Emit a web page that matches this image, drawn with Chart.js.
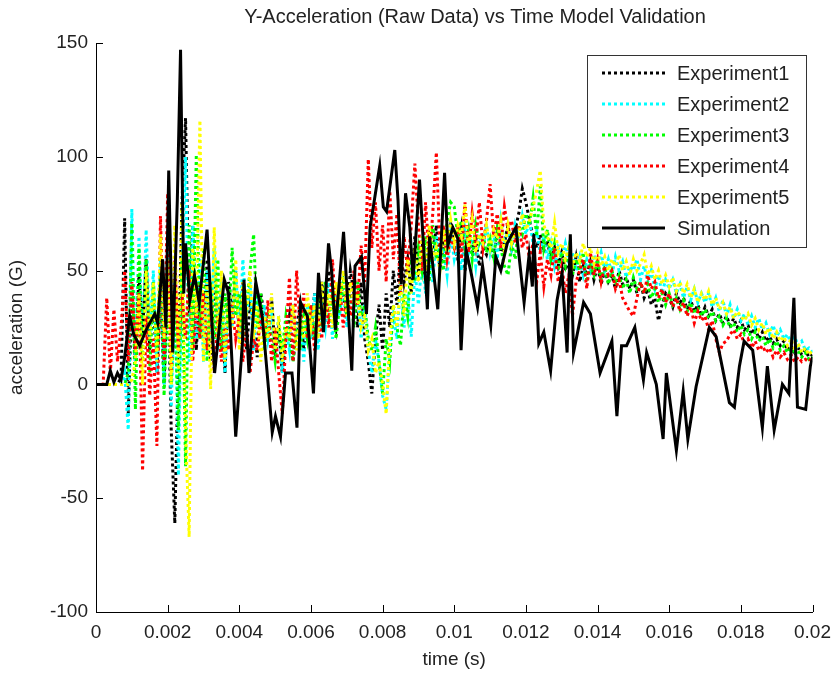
<!DOCTYPE html>
<html lang="en">
<head>
    <meta charset="UTF-8">
    <title>Y-Acceleration Model Validation</title>
    <script src="https://cdn.jsdelivr.net/npm/chart.js@4"></script>
    <style>
        body {
            margin: 0;
            background: #fff;
        }
        #chartBox {
            width: 840px;
            height: 674px;
        }
    </style>
</head>
<body>
    <div id="chartBox">
        <canvas id="accelChart" width="840" height="674"></canvas>
    </div>

    <script>
        // Raw accelerometer traces, sampled every 0.1 ms (0 .. 0.02 s)
        const sampleStep = 0.0001;
        const sampleCount = 201;

        const experiment1 = [
            0, 0, 0, 0, 0, 0, 0, 3, 73, -13,
            40, 10, 48, 22, 55, 15, 38, 5, 42, 0,
            50, -20, -61, 10, 80, 117, 30, 70, 15, 45,
            20, 55, 10, 48, 25, 40, 5, 45, 30, 50,
            20, 45, 15, 35, 28, 12, 40, 30, 20, 38,
            15, 25, 5, 20, 30, 10, 25, 35, 15, 30,
            20, 40, 25, 45, 30, 50, 35, 25, 45, 40,
            30, 50, 40, 25, 45, 20, 10, -4, 20, 35,
            15, 40, 25, 50, 35, 60, 45, 55, 40, 65,
            50, 60, 45, 65, 55, 70, 50, 62, 58, 70,
            60, 55, 68, 50, 62, 58, 65, 52, 60, 57,
            63, 55, 67, 58, 62, 70, 60, 68, 75, 86,
            80, 72, 65, 60, 66, 58, 63, 55, 60, 52,
            58, 50, 55, 48, 56, 45, 52, 48, 54, 46,
            52, 44, 50, 45, 48, 42, 50, 44, 47, 42,
            46, 40, 45, 38, 42, 35, 38, 28, 35, 40,
            38, 34, 40, 36, 38, 33, 37, 32, 35, 30,
            34, 30, 33, 28, 31, 27, 30, 26, 29, 25,
            28, 24, 26, 22, 25, 20, 23, 19, 21, 18,
            20, 17, 19, 15, 17, 14, 16, 13, 15, 12, 13
        ];

        const experiment2 = [
            0, 0, 0, 0, 0, 0, 0, 0, 5, -20,
            77, 10, 65, 15, 68, 20, 50, 5, 55, 0,
            60, -10, 45, -40, 50, 100, 10, 70, 20, 55,
            10, 50, 20, 60, 15, 45, 5, 40, 25, 50,
            20, 55, 30, 45, 15, 40, 25, 35, 20, 30,
            15, 30, 5, 25, 15, 35, 20, 30, 10, 35,
            20, 40, 15, 35, 25, 45, 20, 40, 30, 45,
            25, 40, 30, 45, 20, 35, 15, 5, 20, 10,
            -5, -11, 15, 30, 20, 45, 25, 40, 21, 50,
            35, 55, 40, 60, 45, 65, 50, 60, 48, 66,
            55, 62, 50, 68, 58, 64, 52, 66, 60, 70,
            58, 66, 55, 72, 62, 68, 60, 70, 64, 74,
            66, 72, 62, 68, 58, 65, 55, 62, 52, 60,
            56, 62, 54, 58, 50, 56, 48, 55, 50, 57,
            52, 58, 50, 55, 48, 56, 50, 54, 47, 52,
            50, 55, 46, 52, 45, 50, 42, 48, 40, 46,
            42, 46, 40, 44, 38, 43, 37, 42, 36, 40,
            36, 40, 34, 38, 32, 37, 30, 35, 29, 33,
            28, 31, 26, 30, 25, 29, 24, 27, 22, 26,
            21, 24, 20, 22, 18, 21, 17, 19, 15, 16, 14
        ];

        const experiment3 = [
            0, 0, 0, 0, 0, 0, 0, 0, 0, 5,
            71, -11, 60, 10, 55, 5, 45, 15, 50, -5,
            40, 0, 35, -20, 55, -36, 70, 15, 101, 20,
            60, 10, 45, 20, 55, 15, 40, 25, 60, 30,
            40, 20, 35, 50, 66, 25, 40, 15, 30, 20,
            10, 25, 15, 30, 20, 10, 25, 15, 30, 20,
            35, 20, 40, 25, 45, 30, 40, 20, 35, 45,
            30, 40, 25, 45, 30, 35, 20, 15, 25, 10,
            -4, 20, 10, 35, 25, 17, 40, 30, 55, 45,
            60, 50, 65, 45, 70, 55, 60, 50, 72, 80,
            78, 65, 72, 60, 68, 55, 70, 62, 66, 58,
            64, 56, 68, 60, 52, 48, 62, 55, 70, 66,
            75, 70, 82, 65, 87, 60, 68, 55, 62, 50,
            58, 52, 60, 48, 55, 50, 58, 45, 52, 48,
            55, 46, 52, 44, 50, 45, 48, 42, 46, 40,
            47, 42, 45, 40, 44, 38, 42, 36, 40, 35,
            40, 35, 38, 33, 37, 32, 36, 31, 34, 30,
            33, 29, 32, 28, 30, 26, 29, 25, 27, 23,
            26, 22, 24, 20, 23, 19, 21, 17, 20, 16,
            19, 15, 17, 14, 16, 13, 15, 12, 14, 11, 12
        ];

        const experiment4 = [
            0, 0, 0, 38, 5, 33, 10, 25, 50, 10,
            45, 15, 40, -38, 30, -5, 20, -27, 74, 10,
            84, 5, 55, 15, 40, 20, 50, 10, 35, 20,
            40, 15, 35, 5, 30, 10, 25, 15, 35, 20,
            30, 10, 25, 5, 20, 15, 30, 20, 37, 10,
            25, 5, -13, 20, 47, 10, 50, 25, 40, 20,
            35, 15, 30, 20, 40, 25, 55, 30, 45, 25,
            40, 30, 50, 35, 61, 45, 99, 60, 80, 50,
            70, 45, 85, 55, 75, 40, 65, 50, 70, 97,
            70, 50, 80, 55, 75, 102, 60, 70, 55, 65,
            60, 70, 55, 80, 58, 75, 62, 80, 60, 72,
            88, 65, 75, 60, 78, 68, 72, 62, 70, 60,
            66, 55, 62, 45, 58, 43, 55, 48, 60, 45,
            52, 40, 48, 30, 45, 50, 55, 42, 58, 48,
            55, 45, 52, 48, 50, 42, 46, 38, 35, 32,
            30, 38, 45, 40, 48, 42, 45, 38, 42, 36,
            40, 34, 38, 32, 36, 30, 34, 27, 32, 28,
            30, 24, 28, 20, 14, 18, 19, 22, 24, 20,
            22, 18, 20, 16, 19, 15, 17, 14, 16, 12,
            15, 12, 14, 11, 13, 10, 12, 10, 11, 10, 12
        ];

        const experiment5 = [
            0, 0, 0, 0, 0, 0, 0, 0, 0, 0,
            2, 10, 40, 0, 50, 20, 45, 10, 66, 20,
            55, 0, 70, 5, 80, -20, -67, 60, 30, 116,
            10, 45, -2, 69, 20, 50, 10, 40, 25, 55,
            15, 45, 30, 50, 20, 35, 10, 30, 20, 40,
            15, 30, 10, 25, 20, 35, 15, 30, 20, 40,
            25, 35, 20, 45, 30, 40, 25, 45, 35, 50,
            30, 45, 35, 40, 25, 30, 15, 20, 5, 10,
            0, -13, 20, 35, 25, 45, 30, 55, 40, 60,
            45, 65, 50, 70, 55, 60, 50, 68, 58, 72,
            62, 70, 65, 79, 60, 72, 58, 66, 62, 70,
            60, 68, 64, 72, 58, 70, 62, 68, 66, 75,
            68, 72, 78, 85, 94, 70, 65, 60, 71, 58,
            62, 55, 60, 52, 58, 54, 62, 56, 60, 53,
            58, 52, 56, 50, 55, 52, 57, 50, 54, 48,
            55, 50, 53, 57, 48, 52, 46, 50, 44, 48,
            43, 47, 41, 45, 40, 44, 38, 42, 36, 40,
            37, 41, 35, 38, 33, 36, 31, 34, 29, 32,
            30, 28, 31, 26, 29, 24, 27, 22, 25, 20,
            23, 19, 21, 17, 20, 15, 18, 14, 16, 13, 15
        ];

        // Model output (solver time steps are not uniform)
        const simTime = [
            0, 0.0003, 0.0004, 0.0005, 0.0006, 0.0007, 0.0008, 0.00094, 0.00105, 0.00122,
            0.0014, 0.00164, 0.00172, 0.00186, 0.00195, 0.00203, 0.00214, 0.00227, 0.00236, 0.00245,
            0.0025, 0.00262, 0.00275, 0.00288, 0.0031, 0.00331, 0.00358, 0.0037, 0.0039, 0.00409,
            0.00413, 0.00427, 0.00446, 0.00464, 0.00492, 0.00501, 0.00515, 0.00529, 0.00547, 0.00561,
            0.00571, 0.0059, 0.00607, 0.00621, 0.00635, 0.00649, 0.00658, 0.00668, 0.00691, 0.00714,
            0.00723, 0.00741, 0.00755, 0.00765, 0.00792, 0.00802, 0.00811, 0.00834, 0.00843, 0.00852,
            0.00864, 0.00876, 0.00885, 0.00903, 0.00925, 0.00931, 0.00954, 0.00973, 0.00982, 0.00996,
            0.0101, 0.01019, 0.01033, 0.01047, 0.01065, 0.01079, 0.01102, 0.01116, 0.0113, 0.01148,
            0.01172, 0.01195, 0.01209, 0.01218, 0.01222, 0.01236, 0.0125, 0.01269, 0.01287, 0.01301,
            0.01315, 0.01324, 0.01333, 0.01361, 0.0138, 0.01407, 0.0144, 0.01454, 0.01467, 0.01481,
            0.01504, 0.01528, 0.01537, 0.01564, 0.01583, 0.01592, 0.0162, 0.01639, 0.01652, 0.01675,
            0.01712, 0.01731, 0.01768, 0.01782, 0.01796, 0.01809, 0.01833, 0.0186, 0.01874, 0.01893,
            0.01916, 0.01934, 0.01948, 0.01958, 0.01981, 0.01994, 0.02
        ];
        const simAccel = [
            0, 0, 6, 1, 5, 2, 12, 30, 22, 17,
            24, 31, 27, 55, 25, 94, 14, 81, 147, 40,
            62, 37, 48, 36, 68, 5, 46, 40, -23, 19,
            46, 5, 45, 30, -21, -14, -23, 5, 5, -19,
            36, 30, -4, 49, 23, 62, 49, 24, 67, 6,
            52, 56, 31, 69, 96, 78, 76, 103, 81, 44,
            84, 69, 46, 90, 33, 65, 33, 93, 61, 69,
            64, 15, 59, 49, 34, 52, 26, 56, 50, 62,
            69, 36, 57, 43, 66, 18, 23, 6, 37, 49,
            14, 66, 14, 36, 31, 5, 19, -14, 17, 17,
            25, 2, 14, 0, -24, 5, -29, -3, -24, -1,
            25, 21, -8, -10, 8, 19, 15, -19, 8, -20,
            0, -4, 38, -10, -11, 8, 12
        ];

        const seriesNames = ['Experiment1', 'Experiment2', 'Experiment3', 'Experiment4', 'Experiment5', 'Simulation'];
        const seriesColors = ['#000000', '#00ffff', '#00ff00', '#ff0000', '#ffff00', '#000000'];

        const xTicks = [0, 0.002, 0.004, 0.006, 0.008, 0.01, 0.012, 0.014, 0.016, 0.018, 0.02];
        const yTicks = [-100, -50, 0, 50, 100, 150];

        const titleText = 'Y-Acceleration (Raw Data) vs Time Model Validation';
        const xAxisText = 'time (s)';
        const yAxisText = 'acceleration (G)';

        const fontFamily = '"Liberation Sans", Arial, sans-serif';
        const textColor = '#222222';

        // sample clock for the experiment traces
        const sampleTimes = [];
        for (let i = 0; i < sampleCount; i++) {
            sampleTimes.push(+(i * sampleStep).toFixed(4));
        }

        function toPoints(times, values) {
            return values.map((v, i) => ({ x: times[i], y: v }));
        }

        const experiments = [experiment1, experiment2, experiment3, experiment4, experiment5];

        const datasets = experiments.map((values, k) => ({
            label: seriesNames[k],
            data: toPoints(sampleTimes, values),
            borderColor: seriesColors[k],
            borderWidth: 3,
            borderDash: [3, 3],
            pointRadius: 0,
            tension: 0,
            fill: false,
            order: 5 - k + 1
        }));

        datasets.push({
            label: seriesNames[5],
            data: toPoints(simTime, simAccel),
            borderColor: seriesColors[5],
            borderWidth: 3,
            pointRadius: 0,
            tension: 0,
            fill: false,
            order: 0
        });

        // Title, axis labels, inward ticks and the boxed legend
        const decorations = {
            id: 'decorations',
            afterDraw(chart) {
                const ctx = chart.ctx;
                const area = chart.chartArea;
                const xs = chart.scales.x;
                const ys = chart.scales.y;
                ctx.save();

                // inward tick marks
                ctx.strokeStyle = '#000';
                ctx.lineWidth = 1;
                ctx.beginPath();
                xTicks.forEach(t => {
                    const px = Math.round(xs.getPixelForValue(t)) + 0.5;
                    ctx.moveTo(px, area.bottom);
                    ctx.lineTo(px, area.bottom - 7);
                });
                yTicks.forEach(t => {
                    const py = Math.round(ys.getPixelForValue(t)) + 0.5;
                    ctx.moveTo(area.left, py);
                    ctx.lineTo(area.left + 7, py);
                });
                ctx.stroke();

                // title and axis labels
                ctx.fillStyle = textColor;
                ctx.textAlign = 'center';
                ctx.textBaseline = 'middle';
                ctx.font = '20px ' + fontFamily;
                ctx.fillText(titleText, 475, 17);
                ctx.font = '19px ' + fontFamily;
                ctx.fillText(xAxisText, (area.left + area.right) / 2, 660);
                ctx.save();
                ctx.translate(17, (area.top + area.bottom) / 2);
                ctx.rotate(-Math.PI / 2);
                ctx.fillText(yAxisText, 0, 0);
                ctx.restore();

                // legend
                const box = { left: 587, top: 55, right: 806, bottom: 247 };
                ctx.fillStyle = '#fff';
                ctx.fillRect(box.left, box.top, box.right - box.left, box.bottom - box.top);
                ctx.strokeStyle = '#333';
                ctx.lineWidth = 1;
                ctx.strokeRect(box.left + 0.5, box.top + 0.5, box.right - box.left, box.bottom - box.top);

                ctx.font = '20px ' + fontFamily;
                ctx.textAlign = 'left';
                ctx.textBaseline = 'middle';
                seriesNames.forEach((name, k) => {
                    const y = 73 + k * 31;
                    ctx.beginPath();
                    ctx.strokeStyle = seriesColors[k];
                    ctx.lineWidth = 3;
                    ctx.setLineDash(k < 5 ? [3, 3] : []);
                    ctx.moveTo(602, y);
                    ctx.lineTo(665, y);
                    ctx.stroke();
                    ctx.setLineDash([]);
                    ctx.fillStyle = textColor;
                    ctx.fillText(name, 677, y + 1);
                });

                ctx.restore();
            }
        };

        const ctx = document.getElementById('accelChart').getContext('2d');
        const accelChart = new Chart(ctx, {
            type: 'line',
            data: { datasets: datasets },
            plugins: [decorations],
            options: {
                responsive: false,
                animation: false,
                devicePixelRatio: 1,
                layout: {
                    padding: { top: 43, right: 23, bottom: 0, left: 0 }
                },
                plugins: {
                    legend: { display: false },
                    tooltip: { enabled: false }
                },
                scales: {
                    x: {
                        type: 'linear',
                        min: 0,
                        max: 0.02,
                        afterFit: scale => { scale.height = 62; },
                        afterBuildTicks: scale => {
                            scale.ticks = xTicks.map(v => ({ value: v }));
                        },
                        grid: { display: false, drawTicks: false },
                        border: { display: true, color: '#000', width: 1 },
                        ticks: {
                            padding: 9,
                            color: textColor,
                            font: { family: fontFamily, size: 19 },
                            maxRotation: 0,
                            autoSkip: false,
                            callback: value => String(+value.toFixed(3))
                        }
                    },
                    y: {
                        type: 'linear',
                        min: -100,
                        max: 150,
                        afterFit: scale => { scale.width = 96; },
                        afterBuildTicks: scale => {
                            scale.ticks = yTicks.map(v => ({ value: v }));
                        },
                        grid: { display: false, drawTicks: false },
                        border: { display: true, color: '#000', width: 1 },
                        ticks: {
                            padding: 8,
                            color: textColor,
                            font: { family: fontFamily, size: 19 },
                            autoSkip: false,
                            callback: value => String(value)
                        }
                    }
                }
            }
        });
    </script>
</body>
</html>
